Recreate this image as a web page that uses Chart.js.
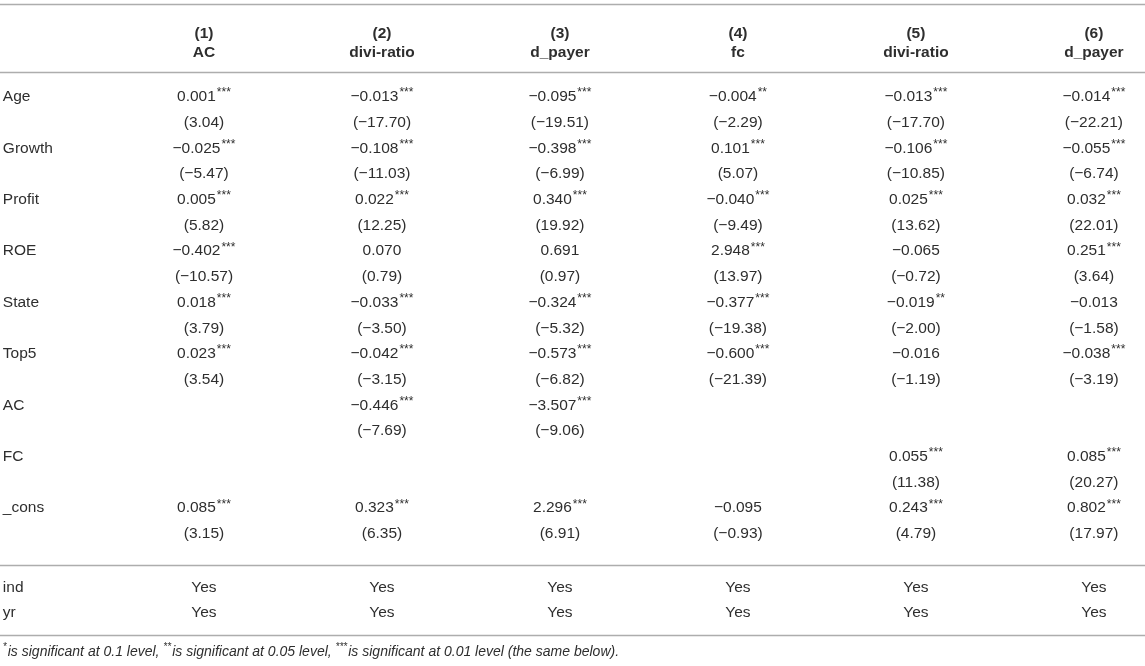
<!DOCTYPE html>
<html>
<head>
<meta charset="utf-8">
<script src="https://cdn.jsdelivr.net/npm/chart.js@4.4.0/dist/chart.umd.min.js"></script>
<style>
html, body { margin: 0; padding: 0; background: #fff; }
#wrap { width: 1145px; height: 666px; }
</style>
</head>
<body>
<div id="wrap"><canvas id="regTable" width="1145" height="666"></canvas></div>
<script>
// column headers
var modelNums = ['(1)', '(2)', '(3)', '(4)', '(5)', '(6)'];
var depVars = ['AC', 'divi-ratio', 'd_payer', 'fc', 'divi-ratio', 'd_payer'];
var regressors = ['Age', 'Growth', 'Profit', 'ROE', 'State', 'Top5', 'AC', 'FC', '_cons'];

// coefficients, significance stars and t values (null = not in model)
var coef1 = [0.001, -0.025, 0.005, -0.402, 0.018, 0.023, null, null, 0.085];
var stars1 = [3, 3, 3, 3, 3, 3, 0, 0, 3];
var tval1 = [3.04, -5.47, 5.82, -10.57, 3.79, 3.54, null, null, 3.15];

var coef2 = [-0.013, -0.108, 0.022, 0.070, -0.033, -0.042, -0.446, null, 0.323];
var stars2 = [3, 3, 3, 0, 3, 3, 3, 0, 3];
var tval2 = [-17.70, -11.03, 12.25, 0.79, -3.50, -3.15, -7.69, null, 6.35];

var coef3 = [-0.095, -0.398, 0.340, 0.691, -0.324, -0.573, -3.507, null, 2.296];
var stars3 = [3, 3, 3, 0, 3, 3, 3, 0, 3];
var tval3 = [-19.51, -6.99, 19.92, 0.97, -5.32, -6.82, -9.06, null, 6.91];

var coef4 = [-0.004, 0.101, -0.040, 2.948, -0.377, -0.600, null, null, -0.095];
var stars4 = [2, 3, 3, 3, 3, 3, 0, 0, 0];
var tval4 = [-2.29, 5.07, -9.49, 13.97, -19.38, -21.39, null, null, -0.93];

var coef5 = [-0.013, -0.106, 0.025, -0.065, -0.019, -0.016, null, 0.055, 0.243];
var stars5 = [3, 3, 3, 0, 2, 0, 0, 3, 3];
var tval5 = [-17.70, -10.85, 13.62, -0.72, -2.00, -1.19, null, 11.38, 4.79];

var coef6 = [-0.014, -0.055, 0.032, 0.251, -0.013, -0.038, null, 0.085, 0.802];
var stars6 = [3, 3, 3, 3, 0, 3, 0, 3, 3];
var tval6 = [-22.21, -6.74, 22.01, 3.64, -1.58, -3.19, null, 20.27, 17.97];

var controlNames = ['ind', 'yr'];
var indFE = ['Yes', 'Yes', 'Yes', 'Yes', 'Yes', 'Yes'];
var yrFE = ['Yes', 'Yes', 'Yes', 'Yes', 'Yes', 'Yes'];

var footnote = [
    ['*', 'is significant at 0.1 level, '],
    ['**', 'is significant at 0.05 level, '],
    ['***', 'is significant at 0.01 level (the same below).']
];

var MINUS = '\u2212';
var TXT = '#2e2e2e';
var RULE = '#adadad';
var FONT = '"Liberation Sans", Arial, Helvetica, sans-serif';

function fmtCoef(v) {
    return (v < 0 ? MINUS : '') + Math.abs(v).toFixed(3);
}
function fmtT(v) {
    return '(' + (v < 0 ? MINUS : '') + Math.abs(v).toFixed(2) + ')';
}
function starStr(n) {
    return n > 0 ? '***'.slice(0, n) : '';
}

// rows: each regressor takes two rows (coef, t value); controls sit below a rule
var ROW_IND = 19.1;
var ROW_YR = 20.05;

function columnPoints(col, coef, stars, tval) {
    var pts = [];
    coef.forEach(function (c, k) {
        if (c === null) return;
        pts.push({ x: col, y: 2 * k, text: fmtCoef(c), sup: starStr(stars[k]) });
        pts.push({ x: col, y: 2 * k + 1, text: fmtT(tval[k]), sup: '' });
    });
    pts.push({ x: col, y: ROW_IND, text: indFE[col - 1], sup: '' });
    pts.push({ x: col, y: ROW_YR, text: yrFE[col - 1], sup: '' });
    return pts;
}

var STUB_X = -0.13;
var stubPoints = regressors.map(function (r, k) {
    return { x: STUB_X, y: 2 * k, text: r, sup: '', left: true };
});
stubPoints.push({ x: STUB_X, y: ROW_IND, text: controlNames[0], sup: '', left: true });
stubPoints.push({ x: STUB_X, y: ROW_YR, text: controlNames[1], sup: '', left: true });

var allCols = [
    [coef1, stars1, tval1], [coef2, stars2, tval2], [coef3, stars3, tval3],
    [coef4, stars4, tval4], [coef5, stars5, tval5], [coef6, stars6, tval6]
];

var datasets = [{ label: 'stub', data: stubPoints }];
allCols.forEach(function (c, i) {
    datasets.push({ label: modelNums[i], data: columnPoints(i + 1, c[0], c[1], c[2]) });
});
datasets.forEach(function (d) {
    d.pointRadius = 0;
    d.showLine = false;
});

function drawCell(ctx, x, y, text, sup, left, bold, size) {
    var mainFont = (bold ? 'bold ' : '') + size + 'px ' + FONT;
    var supFont = '12px ' + FONT;
    ctx.font = mainFont;
    var w = ctx.measureText(text).width;
    var ws = 0;
    if (sup) {
        ctx.font = supFont;
        ws = ctx.measureText(sup).width + 1;
    }
    var x0 = left ? x : x - (w + ws) / 2;
    ctx.font = mainFont;
    ctx.textAlign = 'left';
    ctx.textBaseline = 'middle';
    ctx.fillText(text, x0, y);
    if (sup) {
        ctx.font = supFont;
        ctx.fillText(sup, x0 + w + 1, y - 4);
    }
}

var tablePlugin = {
    id: 'tableText',
    afterDatasetsDraw: function (chart) {
        var ctx = chart.ctx;
        var xs = chart.scales.x;
        var ys = chart.scales.y;
        var area = chart.chartArea;
        ctx.save();
        ctx.fillStyle = TXT;

        // horizontal rules
        ctx.strokeStyle = RULE;
        ctx.lineWidth = 1.5;
        [-3.62, -0.97, 18.21, 20.93].forEach(function (r) {
            var py = Math.round(ys.getPixelForValue(r)) + 0.5;
            ctx.beginPath();
            ctx.moveTo(area.left, py);
            ctx.lineTo(area.right, py);
            ctx.stroke();
        });

        // header rows
        modelNums.forEach(function (m, i) {
            var px = xs.getPixelForValue(i + 1);
            drawCell(ctx, px, ys.getPixelForValue(-2.45), m, '', false, true, 15.5);
            drawCell(ctx, px, ys.getPixelForValue(-1.71), depVars[i], '', false, true, 15.5);
        });

        // body cells, positioned by the scales
        chart.data.datasets.forEach(function (ds, i) {
            var meta = chart.getDatasetMeta(i);
            meta.data.forEach(function (el, j) {
                var raw = ds.data[j];
                drawCell(ctx, el.x, el.y, raw.text, raw.sup, raw.left, false, 15.5);
            });
        });

        // footnote
        var fx = xs.getPixelForValue(STUB_X);
        var fy = ys.getPixelForValue(21.6);
        ctx.textAlign = 'left';
        ctx.textBaseline = 'middle';
        footnote.forEach(function (f) {
            ctx.font = 'italic 10px ' + FONT;
            ctx.fillText(f[0], fx, fy - 5);
            fx += ctx.measureText(f[0]).width + 1;
            ctx.font = 'italic 14px ' + FONT;
            ctx.fillText(f[1], fx, fy);
            fx += ctx.measureText(f[1]).width;
        });
        ctx.restore();
    }
};

new Chart(document.getElementById('regTable'), {
    type: 'scatter',
    data: { datasets: datasets },
    options: {
        responsive: false,
        animation: false,
        events: [],
        layout: { padding: 0 },
        plugins: {
            legend: { display: false },
            tooltip: { enabled: false }
        },
        scales: {
            x: { type: 'linear', min: -0.146, max: 6.287, display: false },
            y: { type: 'linear', reverse: true, min: -3.774, max: 22.14, display: false }
        }
    },
    plugins: [tablePlugin]
});
</script>
</body>
</html>
